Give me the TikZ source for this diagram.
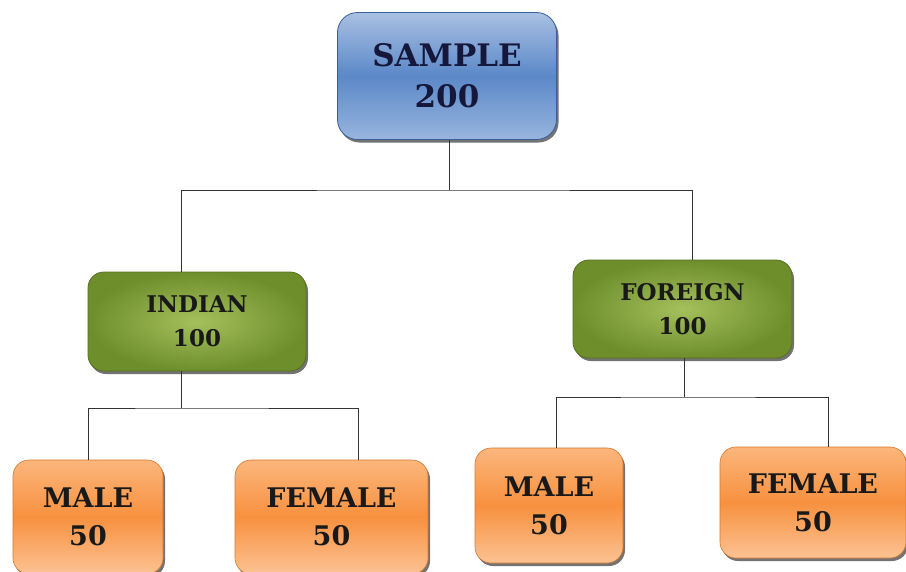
\documentclass[tikz,border=0pt]{standalone}
\usepackage{fontspec}
\setmainfont{DejaVu Serif}
\usetikzlibrary{shadows}
\definecolor{bluetop}{HTML}{A9C0E2}
\definecolor{bluemid}{HTML}{5B88C8}
\definecolor{bluebot}{HTML}{98B5DE}
\definecolor{blueedge}{HTML}{3A5F96}
\definecolor{greenin}{HTML}{A4C05C}
\definecolor{greenout}{HTML}{6E8E2C}
\definecolor{greenedge}{HTML}{55701F}
\definecolor{orgtop}{HTML}{FBB67C}
\definecolor{orgmid}{HTML}{F7913F}
\definecolor{orgbot}{HTML}{FCC293}
\definecolor{orgedge}{HTML}{D9782C}
\definecolor{navy}{HTML}{15183A}
\tikzset{
  boxbase/.style={rounded corners=16pt, align=center, inner sep=0pt,
    drop shadow={shadow xshift=2pt, shadow yshift=-3pt, fill=black, opacity=.55}},
  bluebox/.style={boxbase, rounded corners=20pt, top color=bluetop, bottom color=bluebot, middle color=bluemid,
    draw=blueedge, line width=0.8pt, text=navy, font=\bfseries\fontsize{31}{41}\selectfont},
  greenbox/.style={boxbase, inner color=greenin, outer color=greenout, draw=greenedge, line width=0.8pt, text=black!90,
    font=\bfseries\fontsize{23}{34}\selectfont},
  orangebox/.style={boxbase, top color=orgtop, bottom color=orgbot, middle color=orgmid, draw=orgedge, line width=0.6pt, text=black!90,
    font=\bfseries\fontsize{27}{38}\selectfont},
  conn/.style={draw=black!80, line width=0.9pt}
}
\begin{document}
\begin{tikzpicture}[x=1pt,y=-1pt]
\clip (0,0) rectangle (906,571);
\fill[white] (0,0) rectangle (906,571);
\node[bluebox, minimum width=219pt, minimum height=127pt] (sample) at (447,76) {SAMPLE\\200};
\node[greenbox, minimum width=218pt, minimum height=99pt] (indian) at (197,321.5) {INDIAN\\100};
\node[greenbox, minimum width=219pt, minimum height=98pt] (foreign) at (682.5,309) {FOREIGN\\100};
\node[orangebox, minimum width=150pt, minimum height=114pt] (male1) at (88,517) {MALE\\50};
\node[orangebox, minimum width=193pt, minimum height=114pt] (female1) at (331.5,517) {FEMALE\\50};
\node[orangebox, minimum width=148pt, minimum height=115pt] (male2) at (549,505.5) {MALE\\50};
\node[orangebox, minimum width=186pt, minimum height=111pt] (female2) at (813,502.5) {FEMALE\\50};
\coordinate (b1) at (449,190);
\coordinate (b2) at (181,408);
\coordinate (b3) at (684,397);
\draw[conn] (sample.south -| b1) -- (b1);
\draw[conn] ([xshift=-16pt]indian.north) |- (b1) -| ([xshift=9.5pt]foreign.north);
\draw[conn] (indian.south -| b2) -- (b2);
\draw[conn] (male1.north) |- (b2) -| ([xshift=26.5pt]female1.north);
\draw[conn] (foreign.south -| b3) -- (b3);
\draw[conn] ([xshift=7pt]male2.north) |- (b3) -| ([xshift=15pt]female2.north);
\end{tikzpicture}
\end{document}
